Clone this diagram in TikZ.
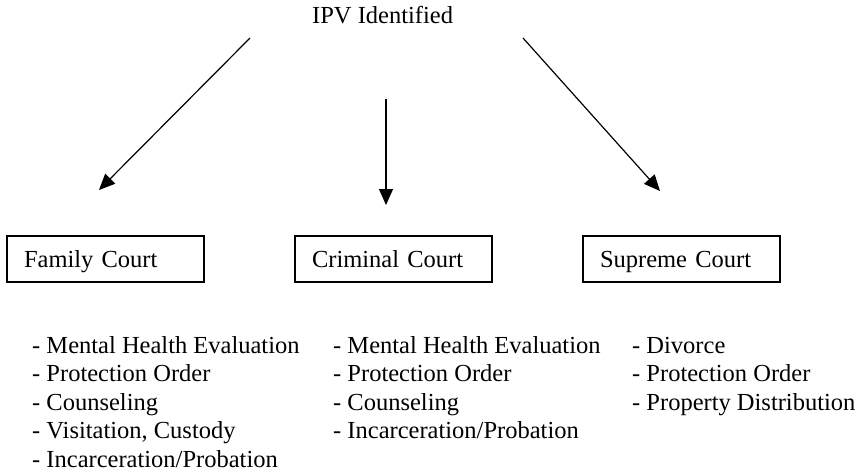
\documentclass[tikz,border=0pt]{standalone}
\usepackage{fontspec}
\setmainfont{Liberation Serif}
\usetikzlibrary{arrows.meta}
\begin{document}
\begin{tikzpicture}[x=1pt,y=-1pt,
  txt/.style={font=\fontsize{24.5}{28}\selectfont, inner sep=0pt, anchor=base west},
  court/.style={draw, line width=1.2pt, minimum width=197pt, minimum height=46pt,
    inner xsep=17pt, inner ysep=0pt, text width=163pt, align=left,
    text height=16pt, text depth=0pt, font=\fontsize{24.5}{28}\selectfont},
  arr/.style={line width=1.2pt, -{Triangle[length=16pt,width=14pt]}}]
\useasboundingbox (0,0) rectangle (863,475);
\node[txt] (ipv) at (312,23) {IPV Identified};
\node[court] (family) at (105.5,259) {Family Court};
\node[court] (criminal) at (393.5,259) {Criminal Court};
\node[court] (supreme) at (681.5,259) {Supreme Court};
\coordinate (l0) at (250,38);
\coordinate (l1) at (99,190);
\coordinate (m0) at (386,99);
\coordinate (m1) at (386,205);
\coordinate (r0) at (523,38);
\coordinate (r1) at (660,191);
\draw[arr] (l0) -- (l1);
\draw[arr] (m0) -- (m1);
\draw[arr] (r0) -- (r1);
\foreach \t [count=\i] in {Mental Health Evaluation, Protection Order, Counseling, {Visitation, Custody}, Incarceration/Probation}
  \node[txt] (fa\i) at (32,{353+28.5*(\i-1)}) {- \t};
\foreach \t [count=\i] in {Mental Health Evaluation, Protection Order, Counseling, Incarceration/Probation}
  \node[txt] (cr\i) at (333,{353+28.5*(\i-1)}) {- \t};
\foreach \t [count=\i] in {Divorce, Protection Order, Property Distribution}
  \node[txt] (su\i) at (632,{353+28.5*(\i-1)}) {- \t};
\end{tikzpicture}
\end{document}
